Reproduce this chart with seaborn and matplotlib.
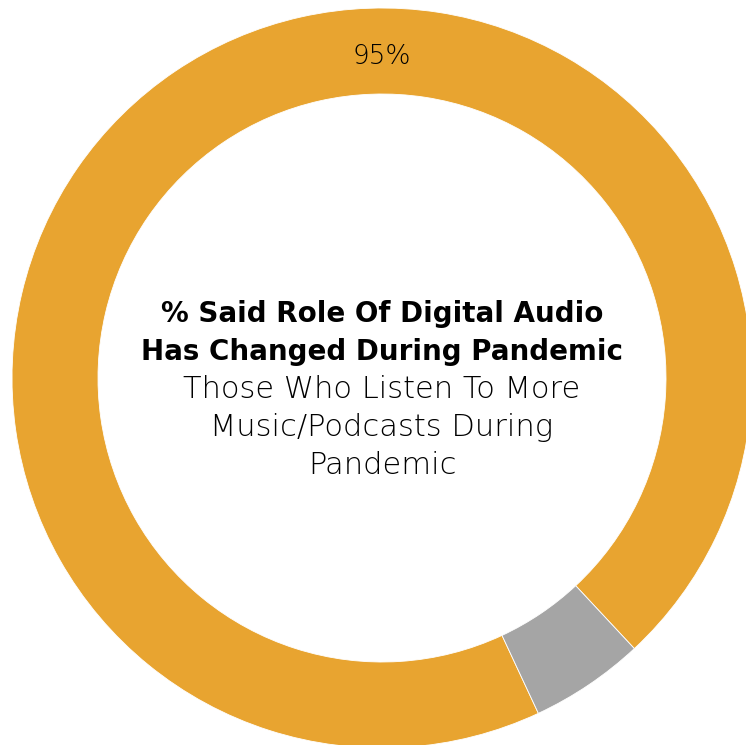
import matplotlib
matplotlib.use("Agg")
import matplotlib.pyplot as plt
import seaborn as sns
import numpy as np

sns.set_theme(style="white")
plt.rcParams["font.family"] = ["DejaVu Sans"]

# Share of listeners
categories = ["Changed", "Not changed"]
values = [95, 5]
colors = ["#E8A430", "#A5A5A5"]
value_labels = ["95%"]

title_lines = ["% Said Role Of Digital Audio", "Has Changed During Pandemic"]
subtitle_lines = ["Those Who Listen To More", "Music/Podcasts During", "Pandemic"]

fig = plt.figure(figsize=(7.46, 7.45), dpi=100)
ax = fig.add_axes([0, 0, 1, 1])

outer_r = 370
ring_w = 86
wedges, _ = ax.pie(values, colors=colors, radius=outer_r, startangle=-65,
                   counterclock=False, center=(0, 0),
                   wedgeprops=dict(width=ring_w, edgecolor="white", linewidth=0.6))

# value label at the top of the ring
mid_r = outer_r - ring_w / 2
ax.text(0, mid_r - 6, value_labels[0], ha="center", va="center", fontsize=19,
        fontweight="light", color="black")

# centre text
y0 = 64
for i, line in enumerate(title_lines):
    ax.text(0, y0 - i * 38, line, ha="center", va="center", fontsize=20,
            fontweight="bold", color="black")
for i, line in enumerate(subtitle_lines):
    ax.text(0, 66 - (i + 2) * 38.5, line, ha="center", va="center", fontsize=22,
            fontweight="light", color="black")

ax.set_xlim(-382, 364)
ax.set_ylim(-367, 378)
ax.set_aspect("equal")
ax.axis("off")

fig.savefig("out.png", dpi=100, facecolor="white")
